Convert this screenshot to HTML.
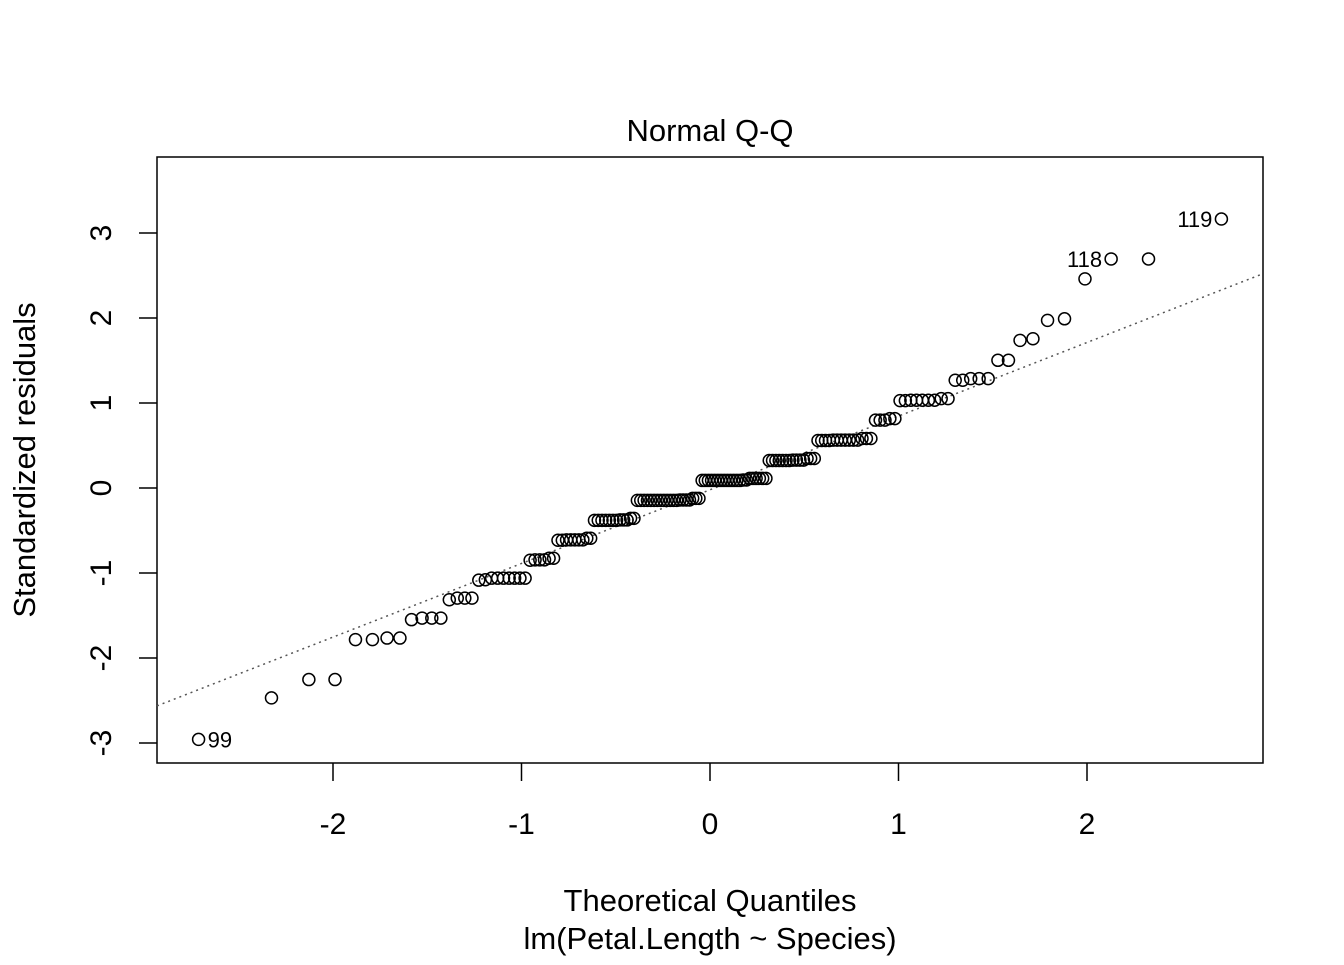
<!DOCTYPE html>
<html><head><meta charset="utf-8">
<style>
html,body{margin:0;padding:0;background:#fff;}
svg text{font-family:"Liberation Sans",Arial,sans-serif;fill:#000;}
</style></head>
<body>
<svg id="chart" width="1344" height="960" viewBox="0 0 1344 960" xmlns="http://www.w3.org/2000/svg">
<rect x="0" y="0" width="1344" height="960" fill="#fff"/>
<text x="710" y="141" font-size="31" text-anchor="middle">Normal Q-Q</text>
<rect x="157" y="157" width="1106" height="606" fill="none" stroke="#000" stroke-width="1.5"/>
<g id="xaxis"></g>
<g id="yaxis"></g>
<g id="refline"></g>
<g id="points"></g>
<g id="labels"></g>
<text x="710" y="911" font-size="31" text-anchor="middle">Theoretical Quantiles</text>
<text x="710" y="949" font-size="31" text-anchor="middle">lm(Petal.Length ~ Species)</text>
<text x="0" y="0" font-size="31" text-anchor="middle" transform="translate(35,460) rotate(-90)">Standardized residuals</text>
</svg>
<script>
// iris Petal.Length by species (data)
const setosa=[1.4,1.4,1.3,1.5,1.4,1.7,1.4,1.5,1.4,1.5,1.5,1.6,1.4,1.1,1.2,1.5,1.3,1.4,1.7,1.5,1.7,1.5,1.0,1.7,1.9,1.6,1.6,1.5,1.4,1.6,1.6,1.5,1.5,1.4,1.5,1.2,1.3,1.4,1.3,1.5,1.3,1.3,1.3,1.6,1.9,1.4,1.6,1.4,1.5,1.4];
const versicolor=[4.7,4.5,4.9,4.0,4.6,4.5,4.7,3.3,4.6,3.9,3.5,4.2,4.0,4.7,3.6,4.4,4.5,4.1,4.5,3.9,4.8,4.0,4.9,4.7,4.3,4.4,4.8,5.0,4.5,3.5,3.8,3.7,3.9,5.1,4.5,4.5,4.7,4.4,4.1,4.0,4.4,4.6,4.0,3.3,4.2,4.2,4.2,4.3,3.0,4.1];
const virginica=[6.0,5.1,5.9,5.6,5.8,6.6,4.5,6.3,5.8,6.1,5.1,5.3,5.5,5.0,5.1,5.3,5.5,6.7,6.9,5.0,5.7,4.9,6.7,4.9,5.7,6.0,4.8,4.9,5.6,5.8,6.1,6.4,5.6,5.1,5.6,6.1,5.6,5.5,4.8,5.4,5.6,5.1,5.1,5.9,5.7,5.2,5.0,5.2,5.4,5.1];
const xTicks=[-2,-1,0,1,2];
const yTicks=[-3,-2,-1,0,1,2,3];

const NS="http://www.w3.org/2000/svg";
const X0=710, XS=188.5, Y0=488, YS=85;
function sx(v){return X0+v*XS;}
function sy(v){return Y0-v*YS;}
function mk(tag,attrs,parent){const e=document.createElementNS(NS,tag);for(const k in attrs)e.setAttribute(k,attrs[k]);parent.appendChild(e);return e;}

function qnorm(p){
 const a=[-3.969683028665376e+01,2.209460984245205e+02,-2.759285104469687e+02,1.383577518672690e+02,-3.066479806614716e+01,2.506628277459239e+00];
 const b=[-5.447609879822406e+01,1.615858368580409e+02,-1.556989798598866e+02,6.680131188771972e+01,-1.328068155288572e+01];
 const c=[-7.784894002430293e-03,-3.223964580411365e-01,-2.400758277161838e+00,-2.549732539343734e+00,4.374664141464968e+00,2.938163982698783e+00];
 const d=[7.784695709041462e-03,3.224671290700398e-01,2.445134137142996e+00,3.754408661907416e+00];
 const pl=0.02425;let q,r;
 if(p<pl){q=Math.sqrt(-2*Math.log(p));return (((((c[0]*q+c[1])*q+c[2])*q+c[3])*q+c[4])*q+c[5])/((((d[0]*q+d[1])*q+d[2])*q+d[3])*q+1);}
 if(p>1-pl){q=Math.sqrt(-2*Math.log(1-p));return -(((((c[0]*q+c[1])*q+c[2])*q+c[3])*q+c[4])*q+c[5])/((((d[0]*q+d[1])*q+d[2])*q+d[3])*q+1);}
 q=p-0.5;r=q*q;return (((((a[0]*r+a[1])*r+a[2])*r+a[3])*r+a[4])*r+a[5])*q/(((((b[0]*r+b[1])*r+b[2])*r+b[3])*r+b[4])*r+1);
}

const groups=[setosa,versicolor,virginica];
const resid=[];
groups.forEach(function(g){const m=g.reduce(function(s,v){return s+v;},0)/g.length;g.forEach(function(v){resid.push(v-m);});});
const n=resid.length;
const sigma=Math.sqrt(resid.reduce(function(s,r){return s+r*r;},0)/(n-groups.length));
const hat=1/setosa.length;
const std=resid.map(function(r){return r/(sigma*Math.sqrt(1-hat));});
const order=std.map(function(v,i){return i;}).sort(function(a,b){return std[a]-std[b];});
const theo=new Array(n);
order.forEach(function(idx,rank){theo[idx]=qnorm((rank+1-0.5)/n);});

const xa=document.getElementById('xaxis');
xTicks.forEach(function(t){
 const l=mk('line',{x1:sx(t),x2:sx(t),y1:763,y2:781,stroke:'#000','stroke-width':1.5},xa);
 
 
 const tx=mk('text',{x:sx(t),y:834,'font-size':30,'text-anchor':'middle'},xa);
 tx.textContent=String(t);
 
 
});
const ya=document.getElementById('yaxis');
yTicks.forEach(function(t){
 const l=mk('line',{x1:139,x2:157,y1:sy(t),y2:sy(t),stroke:'#000','stroke-width':1.5},ya);
 
 
 const tx=mk('text',{x:0,y:0,'font-size':30,'text-anchor':'middle',transform:'translate(111,'+sy(t)+') rotate(-90)'},ya);
 tx.textContent=String(t);
 
 
});

function quant(arr,p){const s=arr.slice().sort(function(a,b){return a-b;});const h=(s.length-1)*p;const lo=Math.floor(h);const hi=Math.min(lo+1,s.length-1);return s[lo]+(h-lo)*(s[hi]-s[lo]);}
const qy1=quant(std,0.25),qy2=quant(std,0.75),qx1=qnorm(0.25),qx2=qnorm(0.75);
const slope=(qy2-qy1)/(qx2-qx1),inter=qy1-slope*qx1;
const xl=(157-X0)/XS,xr=(1263-X0)/XS;
const rl=mk('line',{x1:157,y1:sy(inter+slope*xl),x2:1263,y2:sy(inter+slope*xr),stroke:'#555','stroke-width':1.5,'stroke-dasharray':'2,4'},document.getElementById('refline'));



const pg=document.getElementById('points');
for(let i=0;i<n;i++){
 const c=mk('circle',{cx:sx(theo[i]),cy:sy(std[i]),r:6,fill:'none',stroke:'#000','stroke-width':1.5},pg);
 
 
}
const lg=document.getElementById('labels');
const topIdx=std.map(function(v,i){return i;}).sort(function(a,b){return Math.abs(std[b])-Math.abs(std[a]);}).slice(0,3);
topIdx.forEach(function(i){
 const right=theo[i]<0;
 const t=mk('text',{x:sx(theo[i])+(right?9:-9),y:sy(std[i])+8,'font-size':22,'text-anchor':right?'start':'end'},lg);
 t.textContent=String(i+1);
 
 
});
</script>
</body></html>
